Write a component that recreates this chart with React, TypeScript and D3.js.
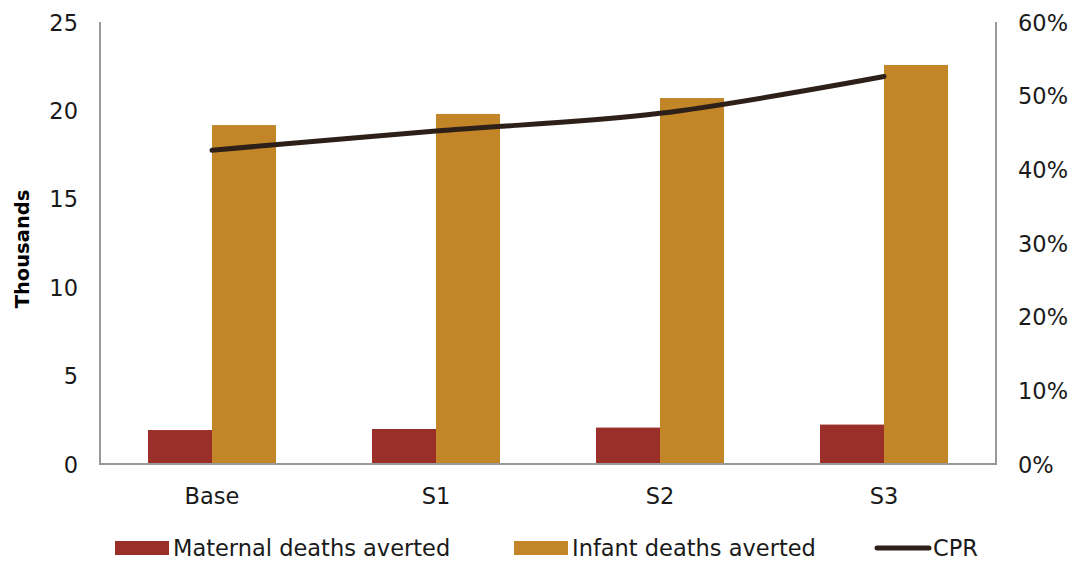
import React from "react";
import * as d3 from "d3";

const categories = ["Base", "S1", "S2", "S3"];
const maternal = [1.92, 1.98, 2.06, 2.23];
const infant = [19.17, 19.8, 20.7, 22.57];
const cpr = [0.426, 0.452, 0.476, 0.526];
const leftTicks = [0, 5, 10, 15, 20, 25];
const rightTicks = [0, 0.1, 0.2, 0.3, 0.4, 0.5, 0.6];

const W = 1073, H = 565;
const L = 100, R = 996, T = 22, B = 464;
const FONT = "'Century Gothic', 'URW Gothic', 'DejaVu Sans', sans-serif";

export default function App() {
  const x0 = d3.scaleBand().domain(categories).range([L, R]).paddingInner(0.4286).paddingOuter(0.2143);
  const x1 = d3.scaleBand().domain(["m", "i"]).range([0, x0.bandwidth()]);
  const yL = d3.scaleLinear().domain([0, 25]).range([B, T]);
  const yR = d3.scaleLinear().domain([0, 0.6]).range([B, T]);
  const line = d3.line<number>()
    .x((_, i) => (x0(categories[i]) as number) + x0.bandwidth() / 2)
    .y((d) => yR(d))
    .curve(d3.curveCatmullRom.alpha(0.5));
  return (
    <svg width={W} height={H} style={{ position: "absolute", left: 0, top: 0, fontFamily: FONT }}>
      <rect width={W} height={H} fill="#fff" />
      {categories.map((c, i) => (
        <g key={c}>
          <rect x={(x0(c) as number) + (x1("m") as number)} y={yL(maternal[i])} width={x1.bandwidth()} height={B - yL(maternal[i])} fill="#992F28" />
          <rect x={(x0(c) as number) + (x1("i") as number)} y={yL(infant[i])} width={x1.bandwidth()} height={B - yL(infant[i])} fill="#C28628" />
          <text x={(x0(c) as number) + x0.bandwidth() / 2} y={504} textAnchor="middle" fontSize={22.5} fill="#1a1a1a">{c}</text>
        </g>
      ))}
      <path d={line(cpr) as string} fill="none" stroke="#2D2019" strokeWidth={5} strokeLinecap="round" />
      <line x1={L} x2={L} y1={T} y2={B + 1} stroke="#999" strokeWidth={2} />
      <line x1={R} x2={R} y1={T} y2={B + 1} stroke="#999" strokeWidth={2} />
      <line x1={L - 1} x2={R + 1} y1={B} y2={B} stroke="#999" strokeWidth={2} />
      {leftTicks.map((t) => (
        <text key={t} x={78} y={yL(t) + 8.5} textAnchor="end" fontSize={22.5} fill="#1a1a1a">{t}</text>
      ))}
      {rightTicks.map((t) => (
        <text key={t} x={1018} y={yR(t) + 8.5} textAnchor="start" fontSize={22.5} fill="#1a1a1a">{Math.round(t * 100) + "%"}</text>
      ))}
      <text transform={`translate(29,249) rotate(-90)`} textAnchor="middle" fontSize={19.5} fontWeight="bold" fill="#000">Thousands</text>
      <rect x={115} y={541} width={54} height={14} fill="#992F28" />
      <text x={173} y={556} fontSize={22.5} fill="#1a1a1a">Maternal deaths averted</text>
      <rect x={514} y={541} width={54} height={14} fill="#C28628" />
      <text x={572} y={556} fontSize={22.5} fill="#1a1a1a">Infant deaths averted</text>
      <line x1={877} x2={929} y1={548} y2={548} stroke="#2D2019" strokeWidth={5} strokeLinecap="round" />
      <text x={933} y={556} fontSize={22.5} fill="#1a1a1a">CPR</text>
    </svg>
  );
}
